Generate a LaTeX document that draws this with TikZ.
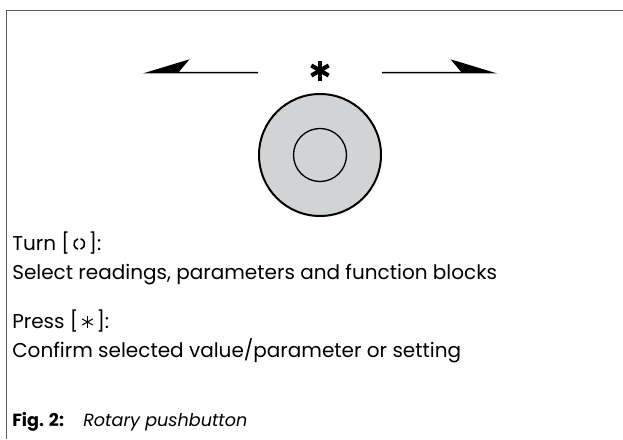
\documentclass[tikz,border=0pt]{standalone}
\usepackage{fontspec}
\setmainfont{Poppins}
\definecolor{knob}{HTML}{D1D3D4}
\definecolor{framegray}{HTML}{5A5A5A}
\begin{document}
\begin{tikzpicture}[x=0.75pt,y=-0.75pt,
  frameline/.style={draw=framegray,line width=1.1pt},
  txt/.style={anchor=base west,inner sep=0pt,font=\fontsize{15}{18}\selectfont},
  captxt/.style={anchor=base west,inner sep=0pt,font=\fontsize{13.2}{16}\selectfont},
  arrowshape/.style={fill=black},
  asterisk/.style={line width=3.1pt,black},
  smallast/.style={line width=0.75pt,black},
  turnsym/.style={line width=1.2pt,black}]
\useasboundingbox (0,0) rectangle (623,439);
% frame
\draw[frameline] (623,10.5) -- (6.5,10.5) -- (6.5,439);
% left and right arrows
\fill[arrowshape] (143,73.4) -- (189.5,59.3) -- (179,71.8) -- (258,71.8) -- (258,73.4) -- cycle;
\fill[arrowshape] (497,73.4) -- (450.5,59.3) -- (461,71.8) -- (382,71.8) -- (382,73.4) -- cycle;
% asterisk
\foreach \a in {90,30,150}
  \draw[asterisk] (320,70.5) ++(\a:10) -- ++(\a+180:20);
% knob
\draw[fill=knob,line width=1.5pt] (320,155) circle (61);
\draw[line width=1pt] (320,155) circle (26.5);
% texts
\node[txt] (turn) at (12,250.5) {Turn [};
\coordinate (ts) at ([xshift=6.8pt,yshift=4.9pt]turn.base east);
\draw[turnsym] (ts) ++(105:4pt) arc (105:255:4pt);
\draw[turnsym] (ts) ++(-75:4pt) arc (-75:75:4pt);
\node[txt] (turnend) at ([xshift=13.6pt]turn.base east) {]:};
\node[txt] (select) at (12,279.5) {Select readings, parameters and function blocks};
\node[txt] (press) at (12,328.5) {Press [};
\coordinate (ps) at ([xshift=6.6pt,yshift=4.9pt]press.base east);
\foreach \a in {90,30,150}
  \draw[smallast] (ps) ++(\a:4.6pt) -- ++(\a+180:9.2pt);
\node[txt] (pressend) at ([xshift=13.2pt]press.base east) {]:};
\node[txt] (confirm) at (12,357.5) {Confirm selected value/parameter or setting};
\node[captxt] (fig) at (12,426) {\textbf{Fig. 2:}};
\node[captxt] (figtxt) at (83,426) {\textit{Rotary pushbutton}};
\end{tikzpicture}
\end{document}
